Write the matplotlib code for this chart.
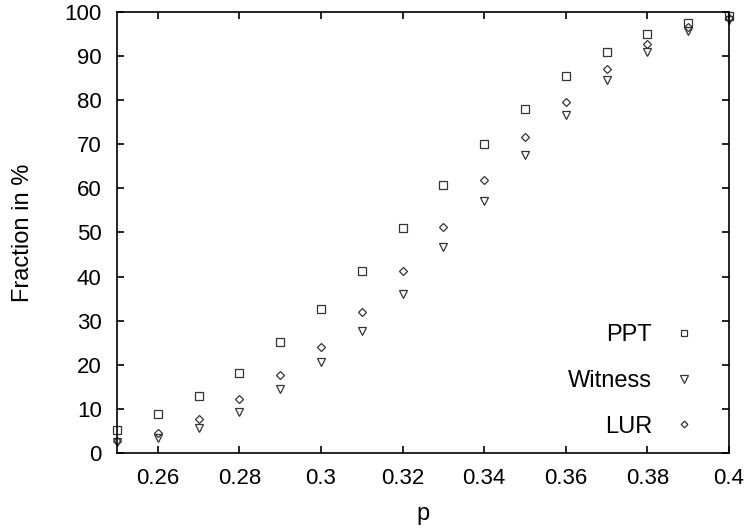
import matplotlib
matplotlib.use("Agg")
import matplotlib.pyplot as plt

plt.rcParams['font.family'] = ['Liberation Sans', 'DejaVu Sans']

# values
p = [0.25, 0.26, 0.27, 0.28, 0.29, 0.30, 0.31, 0.32,
     0.33, 0.34, 0.35, 0.36, 0.37, 0.38, 0.39, 0.40]
ppt = [5.2, 8.8, 13.0, 18.2, 25.2, 32.7, 41.2, 51.0,
       60.7, 70.1, 78.1, 85.4, 90.9, 95.1, 97.6, 99.2]
witness = [2.4, 3.3, 5.7, 9.4, 14.6, 20.6, 27.7, 36.0,
           46.6, 57.1, 67.6, 76.6, 84.5, 90.9, 95.7, 98.2]
lur = [2.8, 4.5, 7.8, 12.3, 17.6, 24.0, 32.0, 41.3,
       51.2, 61.8, 71.6, 79.5, 87.1, 92.7, 96.5, 98.6]

fig = plt.figure(figsize=(7.52, 5.31), dpi=100)
ax = fig.add_axes([0.1556, 0.1469, 0.8138, 0.8305])

edge = '#333333'
ax.plot(p, ppt, linestyle='none', marker='s', markersize=5.5, markerfacecolor='none',
        markeredgecolor=edge, markeredgewidth=0.9, label='PPT', clip_on=False)
ax.plot(p, witness, linestyle='none', marker='v', markersize=6, markerfacecolor='none',
        markeredgecolor=edge, markeredgewidth=0.9, label='Witness', clip_on=False)
ax.plot(p, lur, linestyle='none', marker='D', markersize=4, markerfacecolor='none',
        markeredgecolor=edge, markeredgewidth=0.9, label='LUR', clip_on=False)

ax.set_xlim(0.25, 0.40)
ax.set_ylim(0, 100)
ax.set_xticks([0.26, 0.28, 0.30, 0.32, 0.34, 0.36, 0.38, 0.40])
ax.set_xticklabels(['0.26', '0.28', '0.3', '0.32', '0.34', '0.36', '0.38', '0.4'])
ax.set_yticks(range(0, 101, 10))
ax.tick_params(direction='in', top=True, right=True, length=5, width=1.2,
               labelsize=16, pad=11)
for s in ax.spines.values():
    s.set_linewidth(1.2)

ax.set_xlabel('p', fontsize=17, labelpad=10)
ax.set_ylabel('Fraction in %', fontsize=17, labelpad=22)

ax.legend(loc='lower right', frameon=False, markerfirst=False, fontsize=17,
          labelspacing=1.0, handlelength=1.0, handletextpad=0.86,
          borderpad=0, borderaxespad=0, markerscale=0.85,
          bbox_to_anchor=(0.946, 0.035))

fig.savefig('out.png', dpi=100)
